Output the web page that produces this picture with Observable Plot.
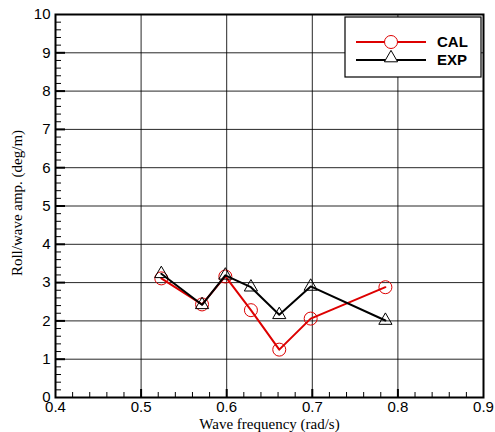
<!DOCTYPE html>
<html>
<head>
<meta charset="utf-8">
<script src="https://cdn.jsdelivr.net/npm/d3@7"></script>
<script src="https://cdn.jsdelivr.net/npm/@observablehq/plot@0.6"></script>
<style>
  html, body { margin: 0; padding: 0; background: white; }
</style>
</head>
<body>
<div id="chart"></div>
<script>
// Data
const freq = [0.5236, 0.5712, 0.5984, 0.6283, 0.6614, 0.6981, 0.7854];
const cal  = [3.11, 2.43, 3.16, 2.28, 1.25, 2.06, 2.88];
const expv = [3.23, 2.42, 3.19, 2.88, 2.16, 2.90, 2.01];
const seriesNames = ["CAL", "EXP"];
const seriesColors = ["#dd0000", "#000000"];

const xTicks = [0.4, 0.5, 0.6, 0.7, 0.8, 0.9];
const yTicks = [0, 1, 2, 3, 4, 5, 6, 7, 8, 9, 10];
const xMinor = d3.range(0.42, 0.9, 0.02).filter(v => Math.abs(v * 10 - Math.round(v * 10)) > 1e-6);
const yMinor = d3.range(0.2, 10, 0.2).filter(v => Math.abs(v - Math.round(v)) > 1e-6);

const calData = freq.map((f, i) => ({f, v: cal[i]}));
const expData = freq.map((f, i) => ({f, v: expv[i]}));

const W = 495, H = 432, mL = 55, mR = 12, mT = 14, mB = 35;
const pw = W - mL - mR, ph = H - mT - mB;
const font = "Arial, 'Liberation Sans', sans-serif";
const serif = "'Times New Roman', 'Liberation Serif', serif";

const svg = Plot.plot({
  width: W, height: H,
  marginLeft: mL, marginRight: mR, marginTop: mT, marginBottom: mB,
  style: {background: "white", fontFamily: font},
  x: {domain: [0.4, 0.9]},
  y: {domain: [0, 10]},
  marks: [
    Plot.gridX(xTicks.slice(1, -1), {stroke: "#000", strokeOpacity: 0.85, strokeWidth: 1}),
    Plot.gridY(yTicks.slice(1, -1), {stroke: "#000", strokeOpacity: 0.85, strokeWidth: 1}),
    // minor ticks (inward)
    Plot.tickX(xMinor, {x: d => d, insetTop: ph - 5, stroke: "#000", strokeWidth: 1}),
    Plot.tickY(yMinor, {y: d => d, insetRight: pw - 6, stroke: "#000", strokeWidth: 1}),
    // major ticks (inward)
    Plot.tickX(xTicks.slice(1, -1), {x: d => d, insetTop: ph - 8, stroke: "#000", strokeWidth: 2}),
    Plot.tickY(yTicks.slice(1, -1), {y: d => d, insetRight: pw - 10, stroke: "#000", strokeWidth: 2}),
    Plot.axisX({ticks: xTicks, tickSize: 0, tickPadding: 4, tickFormat: d3.format(".1f"), fontSize: 15, fontFamily: font, label: null}),
    Plot.axisY({ticks: yTicks, tickSize: 0, tickPadding: 5, tickFormat: d3.format("d"), fontSize: 15, fontFamily: font, label: null}),
    Plot.frame({stroke: "#000", strokeWidth: 2}),
    // CAL
    Plot.line(calData, {x: "f", y: "v", stroke: seriesColors[0], strokeWidth: 2}),
    Plot.dot(calData, {x: "f", y: "v", r: 6.5, stroke: seriesColors[0], strokeWidth: 1, fill: "none"}),
    // EXP
    Plot.line(expData, {x: "f", y: "v", stroke: seriesColors[1], strokeWidth: 2}),
    Plot.dot(expData, {x: "f", y: "v", symbol: "triangle", r: 4.9, stroke: seriesColors[1], strokeWidth: 1, fill: "none"}),
    // axis titles
    Plot.text(["Wave frequency (rad/s)"], {frameAnchor: "bottom", dy: 27, textAnchor: "middle", lineAnchor: "middle", fontSize: 15, fontFamily: serif, fill: "#000"}),
    Plot.text(["Roll/wave amp. (deg/m)"], {frameAnchor: "left", dx: -38, dy: -3, rotate: -90, textAnchor: "middle", lineAnchor: "middle", fontSize: 15, fontFamily: serif, fill: "#000"})
  ]
});

// Legend
const g = d3.select(svg).append("g").attr("text-anchor", "start");
g.append("rect").attr("x", 345).attr("y", 17).attr("width", 136).attr("height", 60)
  .attr("fill", "white").attr("stroke", "#000").attr("stroke-width", 1.2);
const rows = [42, 60];
seriesNames.forEach((name, i) => {
  const y = rows[i];
  g.append("line").attr("x1", 356).attr("x2", 426).attr("y1", y).attr("y2", y)
    .attr("stroke", seriesColors[i]).attr("stroke-width", 2);
  if (i === 0) {
    g.append("circle").attr("cx", 391).attr("cy", y).attr("r", 6.5)
      .attr("fill", "white").attr("stroke", seriesColors[i]).attr("stroke-width", 1);
  } else {
    g.append("path").attr("transform", `translate(391,${y - 2})`)
      .attr("d", d3.symbol(d3.symbolTriangle, Math.PI * 4.9 * 4.9)())
      .attr("fill", "white").attr("stroke", seriesColors[i]).attr("stroke-width", 1);
  }
  g.append("text").attr("x", 437).attr("y", y).attr("dy", "0.36em")
    .attr("text-anchor", "start")
    .attr("font-family", font).attr("font-weight", "bold").attr("font-size", 15)
    .attr("fill", "#000").text(name);
});

document.getElementById("chart").appendChild(svg);
</script>
</body>
</html>
